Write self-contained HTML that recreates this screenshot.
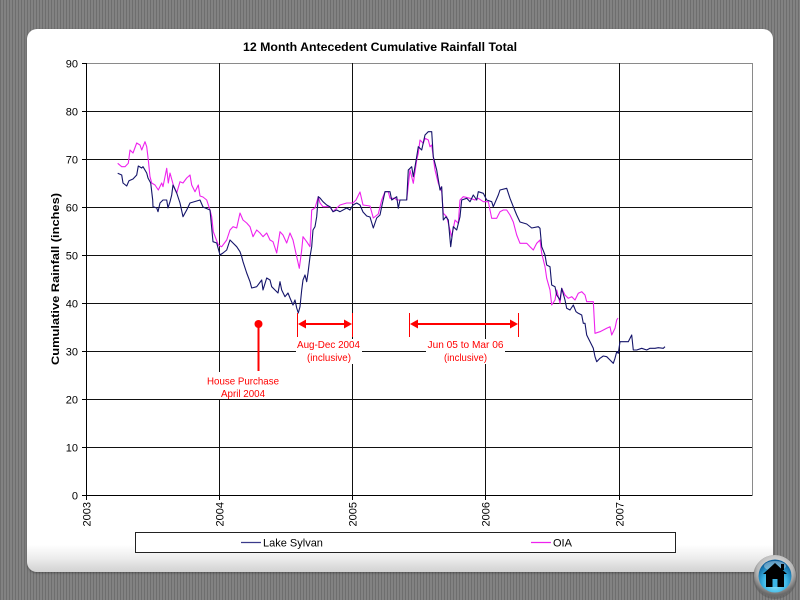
<!DOCTYPE html>
<html>
<head>
<meta charset="utf-8">
<style>
  html,body{margin:0;padding:0;}
  body{
    width:800px;height:600px;overflow:hidden;position:relative;
    background-color:#7b7b7b;
    background-image:
      repeating-linear-gradient(90deg, rgba(0,0,0,0.10) 0px, rgba(0,0,0,0.10) 1px, rgba(255,255,255,0.05) 1px, rgba(255,255,255,0.05) 3px);
    font-family:"Liberation Sans", Arial, sans-serif;
  }
  .card{
    position:absolute;left:27px;top:29px;width:746px;height:543px;
    border-radius:10px;
    background:linear-gradient(to bottom,#ffffff 0%,#ffffff 95%,#ececec 97.5%,#d2d2d2 100%);
    box-shadow:0 1px 2px rgba(0,0,0,0.35);
  }
  svg{position:absolute;left:0;top:0;}
</style>
</head>
<body>
<div class="card"></div>
<svg width="800" height="600" viewBox="0 0 800 600" xmlns="http://www.w3.org/2000/svg" font-family="Liberation Sans, Arial, sans-serif">
  <!-- Title -->
  <text x="380" y="51" font-size="12" font-weight="bold" text-anchor="middle" textLength="274" lengthAdjust="spacingAndGlyphs" fill="#000">12 Month Antecedent Cumulative Rainfall Total</text>

  <!-- Plot border (grey) -->
  <rect x="86.5" y="63.5" width="666" height="432" fill="none" stroke="#8a8a8a" stroke-width="1"/>

  <!-- Horizontal gridlines -->
  <g stroke="#111" stroke-width="1">
    <line x1="86" y1="111.5" x2="752" y2="111.5"/>
    <line x1="86" y1="159.5" x2="752" y2="159.5"/>
    <line x1="86" y1="207.5" x2="752" y2="207.5"/>
    <line x1="86" y1="255.5" x2="752" y2="255.5"/>
    <line x1="86" y1="303.5" x2="752" y2="303.5"/>
    <line x1="86" y1="351.5" x2="752" y2="351.5"/>
    <line x1="86" y1="399.5" x2="752" y2="399.5"/>
    <line x1="86" y1="447.5" x2="752" y2="447.5"/>
  </g>
  <!-- Vertical gridlines -->
  <g stroke="#111" stroke-width="1">
    <line x1="219.5" y1="63" x2="219.5" y2="495"/>
    <line x1="352.5" y1="63" x2="352.5" y2="495"/>
    <line x1="485.5" y1="63" x2="485.5" y2="495"/>
    <line x1="619.5" y1="63" x2="619.5" y2="495"/>
  </g>
  <!-- Axes -->
  <g stroke="#000" stroke-width="1">
    <line x1="86.5" y1="63" x2="86.5" y2="495.5"/>
    <line x1="86" y1="495.5" x2="752" y2="495.5"/>
    <!-- y ticks -->
    <line x1="82" y1="63.5" x2="86" y2="63.5"/>
    <line x1="82" y1="111.5" x2="86" y2="111.5"/>
    <line x1="82" y1="159.5" x2="86" y2="159.5"/>
    <line x1="82" y1="207.5" x2="86" y2="207.5"/>
    <line x1="82" y1="255.5" x2="86" y2="255.5"/>
    <line x1="82" y1="303.5" x2="86" y2="303.5"/>
    <line x1="82" y1="351.5" x2="86" y2="351.5"/>
    <line x1="82" y1="399.5" x2="86" y2="399.5"/>
    <line x1="82" y1="447.5" x2="86" y2="447.5"/>
    <line x1="82" y1="495.5" x2="86" y2="495.5"/>
    <!-- x ticks -->
    <line x1="86.5" y1="495" x2="86.5" y2="500"/>
    <line x1="219.5" y1="495" x2="219.5" y2="500"/>
    <line x1="352.5" y1="495" x2="352.5" y2="500"/>
    <line x1="485.5" y1="495" x2="485.5" y2="500"/>
    <line x1="619.5" y1="495" x2="619.5" y2="500"/>
  </g>

  <!-- Y tick labels -->
  <g font-size="11" fill="#000" text-anchor="end">
    <text x="78" y="67.5">90</text>
    <text x="78" y="115.5">80</text>
    <text x="78" y="163.5">70</text>
    <text x="78" y="211.5">60</text>
    <text x="78" y="259.5">50</text>
    <text x="78" y="307.5">40</text>
    <text x="78" y="355.5">30</text>
    <text x="78" y="403.5">20</text>
    <text x="78" y="451.5">10</text>
    <text x="78" y="499.5">0</text>
  </g>
  <!-- X tick labels -->
  <g font-size="11" fill="#000" text-anchor="end">
    <text transform="translate(90.5,502) rotate(-90)">2003</text>
    <text transform="translate(223.5,502) rotate(-90)">2004</text>
    <text transform="translate(356.5,502) rotate(-90)">2005</text>
    <text transform="translate(489.5,502) rotate(-90)">2006</text>
    <text transform="translate(623.5,502) rotate(-90)">2007</text>
  </g>
  <!-- Y axis title -->
  <text transform="translate(59,279) rotate(-90)" font-size="11" font-weight="bold" text-anchor="middle" textLength="172" lengthAdjust="spacingAndGlyphs" fill="#000">Cumulative Rainfall (inches)</text>

  <!-- OIA (magenta) -->
  <polyline fill="none" stroke="#ee22ee" stroke-width="1.1" stroke-linejoin="round" points="
117.7,163.3 121.7,166.7 125,166.7 128.3,163.3 130,150 133,153 136.7,143 140,145 141.7,150 145,141.7 146.7,146.7 148.3,160 150,176.7 151.7,183 155,185 158.3,190 161.7,183 163,186.7 166.7,168.3 168.3,183 170,173 173.3,185 176.7,193 180,181.7 183,183 186.7,178 190,175 191.7,185 195,191.7 198.3,185 200,196 203,197 206.7,200 210,210 211.7,216.7 213.3,231.7 218.3,245 221.7,246.7 226.7,240 230,230 233,226.7 236.7,228 240,213 243,220 246.7,223 250,226.7 253,236.7 256.7,230 260,233 263,236.7 266.7,233 270,240 273,241.7 276.7,253 280,231.7 283,235 286.7,243 290,233 293,240 296.7,256.7 299.3,268.3 301.7,250 303,236.7 306.7,241.7 310,246.7 311.7,210 315,208 318.3,196.7 320,203 323,206.7 330,206.7 333,211.7 340,205 346.7,203 353,203 356,200 360,192 363,205 370,206 373.3,218 378.3,214 381.7,200 385,191.7 388.3,191.7 390,198.3 395,198.3 396.7,200 406.7,200 410,170 413.3,183.3 416.7,160 418.3,153.3 420,140 423.3,143.3 425,138.3 428.3,140 430,146.7 431.7,145 435,170 438.3,183.3 441.7,191.7 443.3,213.3 446.7,216.7 450,230 451.7,236.7 455,220 458.3,223.3 460,200 463.3,196.7 470,198.3 475,200 478.3,198.3 483.3,201.7 488.3,201.7 491.7,218.3 496.7,218.3 500,211.7 503.3,210 506.7,210 510,215 513.3,222 516.7,235 520,243.3 526.7,243.3 530,246.7 533.3,250 536.7,243.3 540,240 541.7,253.3 545,266.7 546.7,278.3 550,290 551.7,305 555,300 556.7,290 560,303.3 561.7,288.3 565,295 568.3,298.3 571.7,296.7 575,300 578.3,293.3 581.7,291.7 585,295 586.7,301.7 593.3,301.7 595,333.3 600,331.7 606.7,328.3 610,326.7 611.7,335 615,328.3 616.7,320 618,318"/>

  <!-- Lake Sylvan (navy) -->
  <polyline fill="none" stroke="#14146a" stroke-width="1.1" stroke-linejoin="round" points="
117.7,173.3 121.7,175 123,183 126.7,186 129,180.7 133,179 136.7,175 138.3,166 141.7,168 143,166.7 146.7,173 148,178 150.7,183 152.7,200 153,206.7 156.7,208 158,211.7 160,203 163,200 166.7,200 168,208 170,201.7 171.7,195 173,185 176.7,193 180,203 183,216.7 186.7,210 190,203 200,200 203,207 210,210 213,241.7 216.7,243 220,255 223,253 226.7,250 230,240 233,243 236.7,246.7 240,251.7 241.7,256.7 243,261.7 246.7,273 250,281.7 251.7,288 256.7,286.7 261.7,280 263,290 266.7,278 270,280 271.7,286.7 275,290 278,293 280,281.7 281.7,290 285,296.7 288,293 290,298 293,305 295,300 296.7,308 298.3,313 300,306.7 301.7,290 303,280 305,275 306.7,281.7 308,273 310,256.7 311.7,246.7 313,230 315,226.7 316.7,216.7 318.3,196.7 320,198 323,201.7 326.7,205 330,206.7 333,211.7 336.7,210 340,211.7 346.7,208 350,210 353,205 356.7,203 360,205 363,212 366.7,216 370,217 373.3,228 376.7,218 380,215 381.7,206.7 385,191.7 390,191.7 391.7,200 396.7,196.7 398.3,208.3 400,200 406.7,200 408.3,170 411.7,166.7 413.3,176.7 416.7,156.7 418.3,146.7 421.7,150 425,135 428.3,131.7 431.7,131.7 433.3,156.7 436.7,170 440,190 441.7,186.7 443.3,220 446,216.7 448.3,220 450.7,246.7 453.3,226.7 456.7,230 460,216.7 461.7,200 466.7,198.3 470,201.7 473.3,195 476.7,200 478.3,191.7 483.3,193.3 486.7,200 491.7,201.7 493.3,206.7 498.3,195 500,190 506.7,188.3 510,198.3 513.3,206.7 516.7,215 520,222 526.7,224 531.7,228 538.3,226.7 540,228.3 541.7,246.7 545,255 546.7,265 550,266.7 551.7,285 555,286.7 556.7,295 560,300 561.7,288.3 565,300 566.7,308.3 570,310 573.3,305 576,311.7 578.3,313.3 581.7,315 583.3,323.3 585,323.3 586.7,335 588.3,338.3 591.7,345 593.3,348.3 595,356.7 596.7,361.7 600,358.3 603.3,356 606.7,356.7 610,360 613.3,363.3 615,358.3 616.7,351.7 618.3,353.3 620,341.7 623.3,341.7 628.3,341.7 631.7,335 633.3,350 636.7,350 641.7,348.3 646.7,350 650,348.3 655,348.3 658.3,347.7 663.3,348.3 665,346.7"/>

  <!-- Annotations -->
  <!-- House purchase -->
  <line x1="258.5" y1="324" x2="258.5" y2="371" stroke="#ff0000" stroke-width="2"/>
  <circle cx="258.5" cy="324" r="4" fill="#ff0000"/>
  <rect x="205" y="372" width="76" height="27" fill="#fff"/>
  <text x="243" y="384.5" font-size="10.5" fill="#ff0000" text-anchor="middle" textLength="72" lengthAdjust="spacingAndGlyphs">House Purchase</text>
  <text x="243" y="397" font-size="10.5" fill="#ff0000" text-anchor="middle" textLength="44" lengthAdjust="spacingAndGlyphs">April 2004</text>

  <!-- Aug-Dec 2004 arrow -->
  <g stroke="#ff0000" fill="#ff0000">
    <line x1="297.5" y1="313" x2="297.5" y2="337" stroke-width="1"/>
    <line x1="352.5" y1="313" x2="352.5" y2="337" stroke-width="1"/>
    <line x1="304" y1="324" x2="346" y2="324" stroke-width="2"/>
    <polygon points="298,324 306,319.5 306,328.5" stroke="none"/>
    <polygon points="352,324 344,319.5 344,328.5" stroke="none"/>

    <line x1="409.5" y1="313" x2="409.5" y2="337" stroke-width="1"/>
    <line x1="518.5" y1="313" x2="518.5" y2="337" stroke-width="1"/>
    <line x1="416" y1="324" x2="512" y2="324" stroke-width="2"/>
    <polygon points="410,324 418,319.5 418,328.5" stroke="none"/>
    <polygon points="518,324 510,319.5 510,328.5" stroke="none"/>
  </g>
  <rect x="296" y="339" width="66" height="25" fill="#fff"/>
  <text x="328.5" y="348" font-size="10.5" fill="#ff0000" text-anchor="middle" textLength="63" lengthAdjust="spacingAndGlyphs">Aug-Dec 2004</text>
  <text x="329" y="361" font-size="10.5" fill="#ff0000" text-anchor="middle" textLength="44" lengthAdjust="spacingAndGlyphs">(inclusive)</text>

  <rect x="426" y="339" width="79" height="25" fill="#fff"/>
  <text x="465.5" y="348" font-size="10.5" fill="#ff0000" text-anchor="middle" textLength="76" lengthAdjust="spacingAndGlyphs">Jun 05 to Mar 06</text>
  <text x="465.5" y="361" font-size="10.5" fill="#ff0000" text-anchor="middle" textLength="43" lengthAdjust="spacingAndGlyphs">(inclusive)</text>

  <!-- Legend -->
  <rect x="135.5" y="532.5" width="540" height="20" fill="#fff" stroke="#222" stroke-width="1"/>
  <line x1="241" y1="542.5" x2="261" y2="542.5" stroke="#3a3a8a" stroke-width="1.2"/>
  <text x="263" y="546.5" font-size="11" fill="#000">Lake Sylvan</text>
  <line x1="531" y1="542.5" x2="551" y2="542.5" stroke="#ee22ee" stroke-width="1.2"/>
  <text x="553" y="546.5" font-size="11" fill="#000">OIA</text>

  <!-- Home button -->
  <defs>
    <radialGradient id="ring" cx="50%" cy="35%" r="60%">
      <stop offset="0%" stop-color="#f4f4f4"/>
      <stop offset="70%" stop-color="#b8b8b8"/>
      <stop offset="100%" stop-color="#6a6a6a"/>
    </radialGradient>
    <radialGradient id="blue" cx="50%" cy="70%" r="65%">
      <stop offset="0%" stop-color="#9ff0ff"/>
      <stop offset="55%" stop-color="#3cb6e6"/>
      <stop offset="100%" stop-color="#0b5f9a"/>
    </radialGradient>
  </defs>
  <circle cx="775" cy="577" r="22" fill="#555" opacity="0.5"/>
  <circle cx="775" cy="576" r="21" fill="url(#ring)"/>
  <circle cx="775" cy="576" r="16.5" fill="url(#blue)"/>
  <ellipse cx="775" cy="566" rx="11" ry="5" fill="#ffffff" opacity="0.35"/>
  <polygon points="775,563 763,574 787,574" fill="#000"/>
  <rect x="781" y="564" width="3" height="6" fill="#000"/>
  <rect x="766" y="573" width="18" height="14" fill="#000"/>
  <rect x="772.5" y="579" width="5" height="8" fill="#3cb6e6"/>
</svg>
</body>
</html>
